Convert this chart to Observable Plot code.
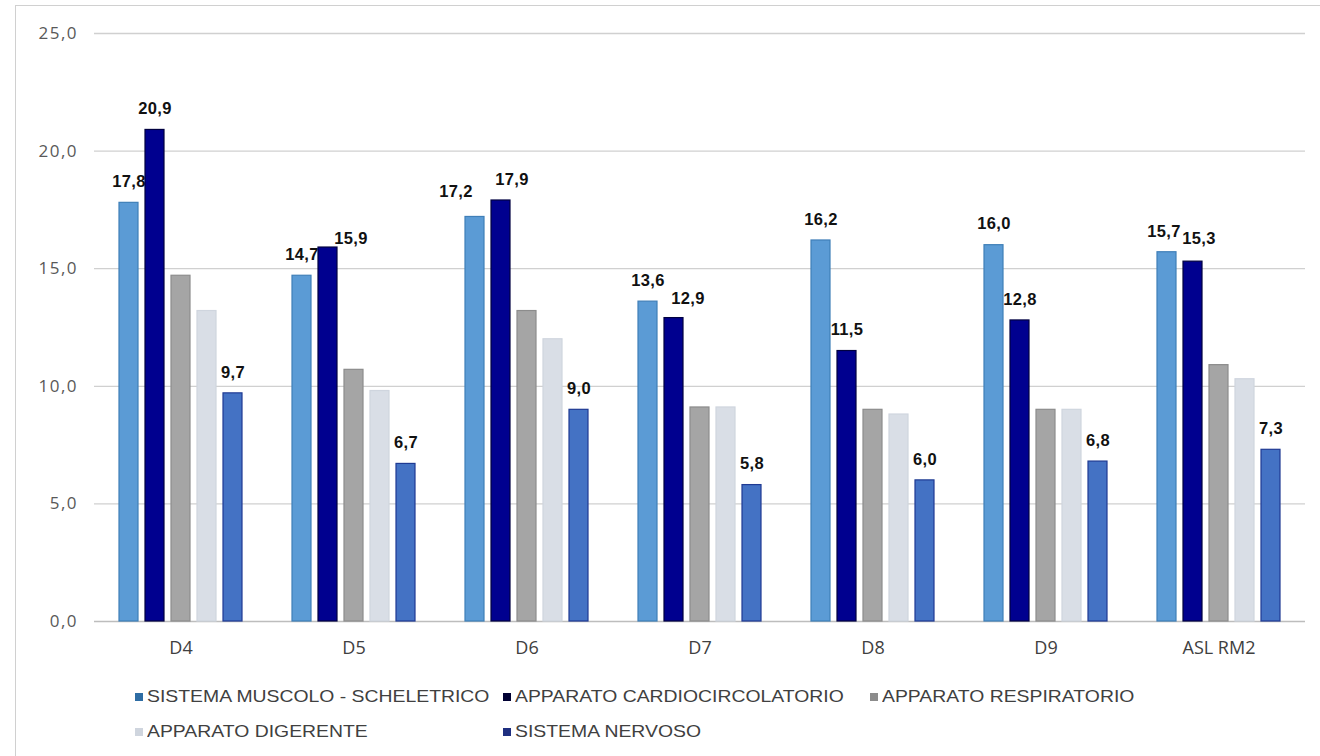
<!DOCTYPE html>
<html>
<head>
<meta charset="utf-8">
<script src="https://cdn.jsdelivr.net/npm/d3@7"></script>
<script src="https://cdn.jsdelivr.net/npm/@observablehq/plot@0.6"></script>
<style>
  html, body { margin: 0; padding: 0; background: #fff; width: 1320px; height: 756px; overflow: hidden; }
  #frame { position: absolute; left: 15px; top: 5px; width: 1320px; height: 760px; border: 1px solid #d0d0d0; box-sizing: border-box; }
  #chart { position: absolute; left: 0; top: 0; }
  #chart g[aria-label="y-axis tick label"] text { letter-spacing: 1.5px; }
  #chart g[aria-label="text"] text { letter-spacing: 0.3px; }
  .legmark { position: absolute; width: 8px; height: 8px; }
  .legtext { position: absolute; font-family: "Liberation Sans", Arial, sans-serif; font-size: 17px; line-height: 20px; color: #404040; white-space: nowrap; transform-origin: 0 50%; transform: scaleX(1.14); }
</style>
</head>
<body>
<div id="frame"></div>
<div id="chart"></div>
<div id="legend"></div>
<script>
const groups = ["D4", "D5", "D6", "D7", "D8", "D9", "ASL RM2"];
const seriesNames = ["SISTEMA MUSCOLO - SCHELETRICO", "APPARATO CARDIOCIRCOLATORIO", "APPARATO RESPIRATORIO", "APPARATO DIGERENTE", "SISTEMA NERVOSO"];
const muscolo      = [17.8, 14.7, 17.2, 13.6, 16.2, 16.0, 15.7];
const cardio       = [20.9, 15.9, 17.9, 12.9, 11.5, 12.8, 15.3];
const respiratorio = [14.7, 10.7, 13.2, 9.1, 9.0, 9.0, 10.9];
const digerente    = [13.2, 9.8, 12.0, 9.1, 8.8, 9.0, 10.3];
const nervoso      = [9.7, 6.7, 9.0, 5.8, 6.0, 6.8, 7.3];
const labelled     = [true, true, false, false, true];
const yTicks = [0, 5, 10, 15, 20, 25];

// styling
const colors  = ["#5b9bd5", "#00008f", "#a5a5a5", "#d9dee6", "#4472c4"];
const strokes = ["#3f7fb8", "#000040", "#8c8c8c", "#cfd5de", "#1f3a93"];
const legendColors = ["#2e6da4", "#000033", "#8c8c8c", "#cfd5de", "#1f2f80"];
// manual label nudges (layout only), keyed by "group|seriesIndex"
const labelOffsets = {
  "D5|1": [23, 12], "D6|0": [-19, -4], "D6|1": [11, 0], "D7|1": [14, 2],
  "ASL RM2|0": [-3, 0], "ASL RM2|1": [6, -2]
};

const seriesValues = [muscolo, cardio, respiratorio, digerente, nervoso];
const data = [];
seriesNames.forEach((s, si) => {
  groups.forEach((g, gi) => {
    data.push({group: g, series: s, value: seriesValues[si][gi], labelled: labelled[si], si});
  });
});
const fmt = d => d.toFixed(1).replace(".", ",");
const off = d => labelOffsets[d.group + "|" + d.si] || [0, 0];

const labelData = data.filter(d => d.labelled);
const marksText = labelData.map(d => Plot.text([d], {
  fx: "group", x: "series", y: "value", text: d => fmt(d.value),
  dx: off(d)[0], dy: -21 + off(d)[1],
  fontSize: 16.5, fontFamily: "Liberation Sans, Arial, sans-serif", fontWeight: "bold", fill: "#111"
}));

const chart = Plot.plot({
  width: 1320,
  height: 670,
  marginTop: 33,
  marginBottom: 49,
  marginLeft: 91,
  marginRight: 12,
  style: {background: "transparent"},
  fx: {domain: groups, padding: 0, label: null},
  x: {domain: seriesNames, paddingInner: 0.26, paddingOuter: 0.85, axis: null},
  y: {domain: [0, 25], label: null},
  color: {domain: seriesNames, range: colors},
  marks: [
    Plot.ruleY(yTicks.slice(1), {stroke: "#d0d0d0", strokeWidth: 1.3}),
    Plot.ruleY([0], {stroke: "#bdbdbd", strokeWidth: 1.3}),
    Plot.axisY({ticks: yTicks, tickFormat: fmt, tickSize: 0, tickPadding: 16.5, fontSize: 17, fontFamily: "Open Sans, sans-serif", color: "#595959", label: null}),
    Plot.axisFx({anchor: "bottom", tickSize: 0, tickPadding: 20, fontSize: 18, fontFamily: "Open Sans, sans-serif", color: "#404040", label: null}),
    ...marksText,
    Plot.barY(data, {fx: "group", x: "series", y: "value", fill: "series", stroke: d => strokes[d.si], strokeWidth: 1.2, inset: 0})
  ]
});
document.getElementById("chart").appendChild(chart);

// legend (HTML, below the SVG area)
const legendPos = [[135, 697], [503, 697], [870, 697], [135, 732], [503, 732]];
const legend = document.getElementById("legend");
seriesNames.forEach((s, i) => {
  const [lx, ly] = legendPos[i];
  const m = document.createElement("div");
  m.className = "legmark";
  m.style.left = lx + "px";
  m.style.top = (ly - 4) + "px";
  m.style.background = legendColors[i];
  legend.appendChild(m);
  const t = document.createElement("div");
  t.className = "legtext";
  t.style.left = (lx + 12) + "px";
  t.style.top = (ly - 10) + "px";
  t.textContent = s;
  legend.appendChild(t);
});
</script>
</body>
</html>
